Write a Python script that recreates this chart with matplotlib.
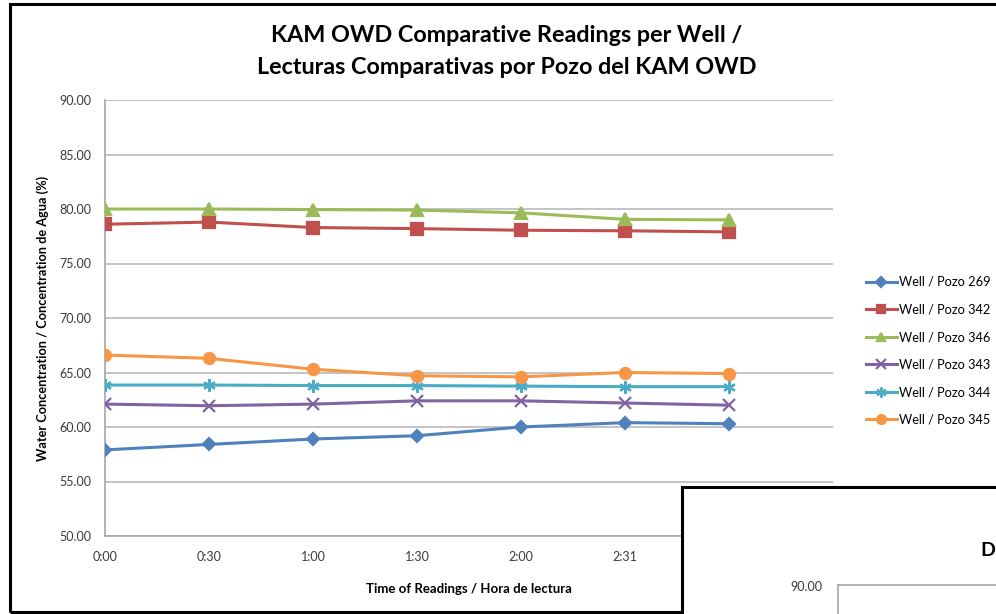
import matplotlib.pyplot as plt
from matplotlib.patches import Rectangle
from matplotlib.lines import Line2D

plt.rcParams['font.family'] = ['Lato', 'DejaVu Sans']

times = ["0:00", "0:30", "1:00", "1:30", "2:00", "2:31", "3:00"]
wells = ["Well / Pozo 269", "Well / Pozo 342", "Well / Pozo 346",
         "Well / Pozo 343", "Well / Pozo 344", "Well / Pozo 345"]
pozo_269 = [57.9, 58.4, 58.9, 59.2, 60.0, 60.4, 60.3]
pozo_342 = [78.6, 78.8, 78.3, 78.2, 78.05, 78.0, 77.9]
pozo_346 = [80.0, 80.0, 79.95, 79.9, 79.65, 79.05, 79.0]
pozo_343 = [62.1, 61.95, 62.1, 62.4, 62.4, 62.2, 62.0]
pozo_344 = [63.85, 63.85, 63.8, 63.8, 63.75, 63.7, 63.7]
pozo_345 = [66.6, 66.3, 65.3, 64.7, 64.6, 65.0, 64.9]

series = [pozo_269, pozo_342, pozo_346, pozo_343, pozo_344, pozo_345]
colors = ["#4F81BD", "#C0504D", "#9BBB59", "#8064A2", "#4BACC6", "#F79646"]
markers = ["D", "s", "^", "x", (6, 2, 0), "o"]
msizes = [6, 8, 8, 9, 9, 8]

fig = plt.figure(figsize=(9.96, 6.14), dpi=100)
ax = fig.add_axes([105 / 996, 1 - 536 / 614, 728 / 996, 436 / 614])

x = list(range(len(times)))
for vals, lab, c, m, ms in zip(series, wells, colors, markers, msizes):
    ax.plot(x, vals, color=c, lw=2.2, marker=m, ms=ms, mew=1.6,
            mec=c, mfc=c, label=lab, zorder=3)

ax.set_xlim(0, 7)
ax.set_ylim(50, 90)
ax.set_yticks(range(50, 91, 5))
ax.set_yticklabels([f"{v:.2f}" for v in range(50, 91, 5)])
ax.set_xticks(x)
ax.set_xticklabels(times)
ax.tick_params(length=0, labelsize=9, colors="#3a3a3a")
ax.tick_params(axis="y", pad=10)
ax.tick_params(axis="x", pad=11)
ax.grid(axis="y", color="#BFBFBF", lw=1.3)
ax.set_axisbelow(True)
for s in ["top", "right"]:
    ax.spines[s].set_visible(False)
for s in ["left", "bottom"]:
    ax.spines[s].set_color("#A6A6A6")
    ax.spines[s].set_linewidth(1.2)

ax.set_xlabel("Time of Readings / Hora de lectura", fontsize=9.5,
              fontweight="bold", labelpad=14)
ax.set_ylabel("Water Concentration / Concentration de Agua (%)", fontsize=9.2,
              fontweight="bold", labelpad=7)

fig.text(507 / 996, 1 - 36 / 614, "KAM OWD Comparative Readings per Well /",
         ha="center", va="center", fontsize=16.8, fontweight="bold")
fig.text(507 / 996, 1 - 68 / 614, "Lecturas Comparativas por Pozo del KAM OWD",
         ha="center", va="center", fontsize=16.8, fontweight="bold")

ax.legend(loc="upper left", bbox_to_anchor=(866 / 996, 1 - 276 / 614),
          bbox_transform=fig.transFigure, frameon=False, fontsize=9.2,
          handlelength=2.4, handletextpad=0.15, labelspacing=1.22,
          borderpad=0, borderaxespad=0, markerscale=0.8)

# outer chart frame
fig.add_artist(Rectangle((10 / 996, 1 - 612 / 614), 1.2, 608 / 614,
                         transform=fig.transFigure, fill=False,
                         edgecolor="black", lw=2.2, zorder=5))

# second chart overlapping in the lower right corner
fig.add_artist(Rectangle((682 / 996, -0.1), 1.0, 0.1 + 127 / 614,
                         transform=fig.transFigure, facecolor="white",
                         edgecolor="black", lw=2.2, zorder=10))
fig.add_artist(Line2D([838 / 996, 1.0], [1 - 585 / 614] * 2,
                      transform=fig.transFigure, color="#A6A6A6", lw=1.2, zorder=11))
fig.add_artist(Line2D([838 / 996] * 2, [0, 1 - 585 / 614],
                      transform=fig.transFigure, color="#A6A6A6", lw=1.2, zorder=11))
fig.text(822 / 996, 1 - 587 / 614, "90.00", ha="right", va="center",
         fontsize=9, color="#3a3a3a", zorder=12)
fig.text(980 / 996, 1 - 550 / 614, "D", ha="left", va="center",
         fontsize=14, fontweight="bold", zorder=12)

fig.savefig("out.png", dpi=100)
